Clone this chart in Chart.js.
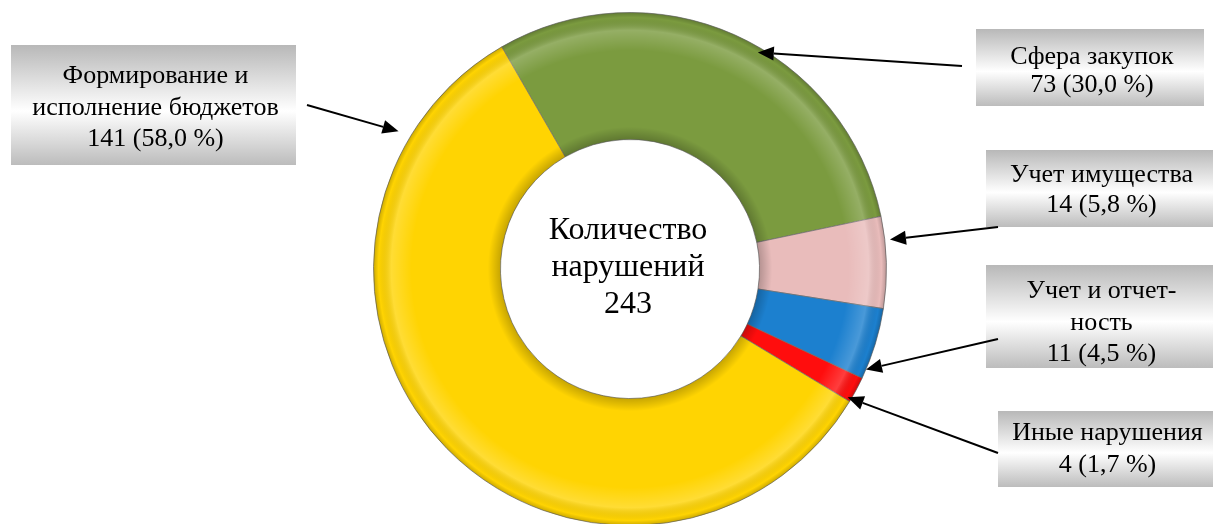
<!DOCTYPE html>
<html>
<head>
<meta charset="utf-8">
<script src="https://cdn.jsdelivr.net/npm/chart.js@4.4.1/dist/chart.umd.min.js"></script>
<style>
  html, body { margin: 0; padding: 0; background: #fff; overflow: hidden; }
  #wrap { position: relative; width: 1213px; height: 526px; }
</style>
</head>
<body>
<div id="wrap"><canvas id="chart" width="1213" height="526"></canvas></div>
<script>
// Data (clockwise from the top-left)
const categories = ['Сфера закупок', 'Учет имущества', 'Учет и отчетность', 'Иные нарушения', 'Формирование и исполнение бюджетов']
const labelLines = [
  ['Сфера закупок'],
  ['Учет имущества'],
  ['Учет и отчет-', 'ность'],
  ['Иные нарушения'],
  ['Формирование и', 'исполнение бюджетов']
]
const values = [73, 14, 11, 4, 141]
const percents = ['30,0', '5,8', '4,5', '1,7', '58,0']
const colors = ['#7b9b3f', '#e9bcbb', '#1c80cf', '#ff0d0d', '#ffd402']
const centerTitle = ['Количество', 'нарушений']

const total = values.reduce((a, b) => a + b, 0)

// Callout layout: box, arrow start, and where on the slice the arrow points
const callouts = [
  { box: [976, 29, 228, 77],  textY: 71,  lh: 28,   start: [962, 66],  frac: 0.56, rad: 0.98 },
  { box: [986, 150, 227, 77], textY: 190, lh: 30,   start: [998, 227], frac: 0.26, rad: 1.02 },
  { box: [986, 265, 227, 103], textY: 323, lh: 31.5, start: [998, 339], frac: 0.87, rad: 1.0 },
  { box: [998, 411, 215, 76], textY: 449, lh: 32,   start: [998, 453], frac: 0.9,  rad: 0.985 },
  { box: [11, 45, 285, 120],  textY: 108, lh: 31.5, start: [307, 105], frac: 0.86, rad: 1.05 }
]

const FONT = '"Liberation Serif", "Times New Roman", serif'

// soft bevel shading over each slice
const bevelPlugin = {
  id: 'bevel',
  afterDatasetsDraw(chart) {
    const ctx = chart.ctx
    chart.getDatasetMeta(0).data.forEach(arc => {
      const p = arc.getProps(['x', 'y', 'startAngle', 'endAngle', 'innerRadius', 'outerRadius'], true)
      ctx.save()
      ctx.beginPath()
      ctx.arc(p.x, p.y, p.outerRadius, p.startAngle, p.endAngle)
      ctx.arc(p.x, p.y, p.innerRadius, p.endAngle, p.startAngle, true)
      ctx.closePath()
      const g = ctx.createRadialGradient(p.x, p.y, p.innerRadius, p.x, p.y, p.outerRadius)
      g.addColorStop(0, 'rgba(0,0,0,0.22)')
      g.addColorStop(0.1, 'rgba(0,0,0,0)')
      g.addColorStop(0.7, 'rgba(255,255,255,0)')
      g.addColorStop(0.86, 'rgba(255,255,255,0.2)')
      g.addColorStop(0.96, 'rgba(0,0,0,0)')
      g.addColorStop(1, 'rgba(0,0,0,0.2)')
      ctx.fillStyle = g
      ctx.fill()
      ctx.restore()
    })
  }
}

function drawArrow(ctx, x1, y1, x2, y2) {
  const ang = Math.atan2(y2 - y1, x2 - x1)
  const len = 16, half = 7
  const bx = x2 - len * Math.cos(ang), by = y2 - len * Math.sin(ang)
  ctx.strokeStyle = '#000'
  ctx.lineWidth = 2
  ctx.beginPath()
  ctx.moveTo(x1, y1)
  ctx.lineTo(bx, by)
  ctx.stroke()
  ctx.fillStyle = '#000'
  ctx.beginPath()
  ctx.moveTo(x2, y2)
  ctx.lineTo(bx + half * Math.sin(ang), by - half * Math.cos(ang))
  ctx.lineTo(bx - half * Math.sin(ang), by + half * Math.cos(ang))
  ctx.closePath()
  ctx.fill()
}

const calloutPlugin = {
  id: 'callouts',
  afterDraw(chart) {
    const ctx = chart.ctx
    const arcs = chart.getDatasetMeta(0).data

    // center caption
    const c = arcs[0].getProps(['x', 'y'], true)
    ctx.save()
    ctx.fillStyle = '#000'
    ctx.font = '32px ' + FONT
    ctx.textAlign = 'center'
    ctx.textBaseline = 'middle'
    const centerLines = [...centerTitle, String(total)]
    centerLines.forEach((t, i) => ctx.fillText(t, c.x - 2, c.y - 38 + i * 37))
    ctx.restore()

    callouts.forEach((co, i) => {
      const [bx, by, bw, bh] = co.box
      ctx.save()
      const g = ctx.createLinearGradient(0, by, 0, by + bh)
      g.addColorStop(0, '#b8b8b8')
      g.addColorStop(0.55, '#ffffff')
      g.addColorStop(1, '#bcbcbc')
      ctx.fillStyle = g
      ctx.fillRect(bx, by, bw, bh)

      const lines = [...labelLines[i], values[i] + ' (' + percents[i] + ' %)']
      ctx.fillStyle = '#000'
      ctx.font = '26px ' + FONT
      ctx.textAlign = 'center'
      ctx.textBaseline = 'middle'
      const y0 = co.textY - (lines.length - 1) * co.lh / 2
      lines.forEach((t, k) => ctx.fillText(t, bx + bw / 2 + 2, y0 + k * co.lh))

      const p = arcs[i].getProps(['x', 'y', 'startAngle', 'endAngle', 'outerRadius'], true)
      const a = p.startAngle + co.frac * (p.endAngle - p.startAngle)
      const r = p.outerRadius * co.rad
      drawArrow(ctx, co.start[0], co.start[1], p.x + r * Math.cos(a), p.y + r * Math.sin(a))
      ctx.restore()
    })
  }
}

new Chart(document.getElementById('chart'), {
  type: 'doughnut',
  data: {
    labels: categories,
    datasets: [{
      data: values,
      backgroundColor: colors,
      borderColor: 'rgba(110,110,110,0.7)',
      borderWidth: 1
    }]
  },
  options: {
    responsive: false,
    devicePixelRatio: 1,
    animation: false,
    rotation: -30,
    cutout: '50.5%',
    layout: { padding: { top: 12, left: 47, right: 0, bottom: 0 } },
    plugins: {
      legend: { display: false },
      tooltip: { enabled: false }
    }
  },
  plugins: [bevelPlugin, calloutPlugin]
})
</script>
</body>
</html>
